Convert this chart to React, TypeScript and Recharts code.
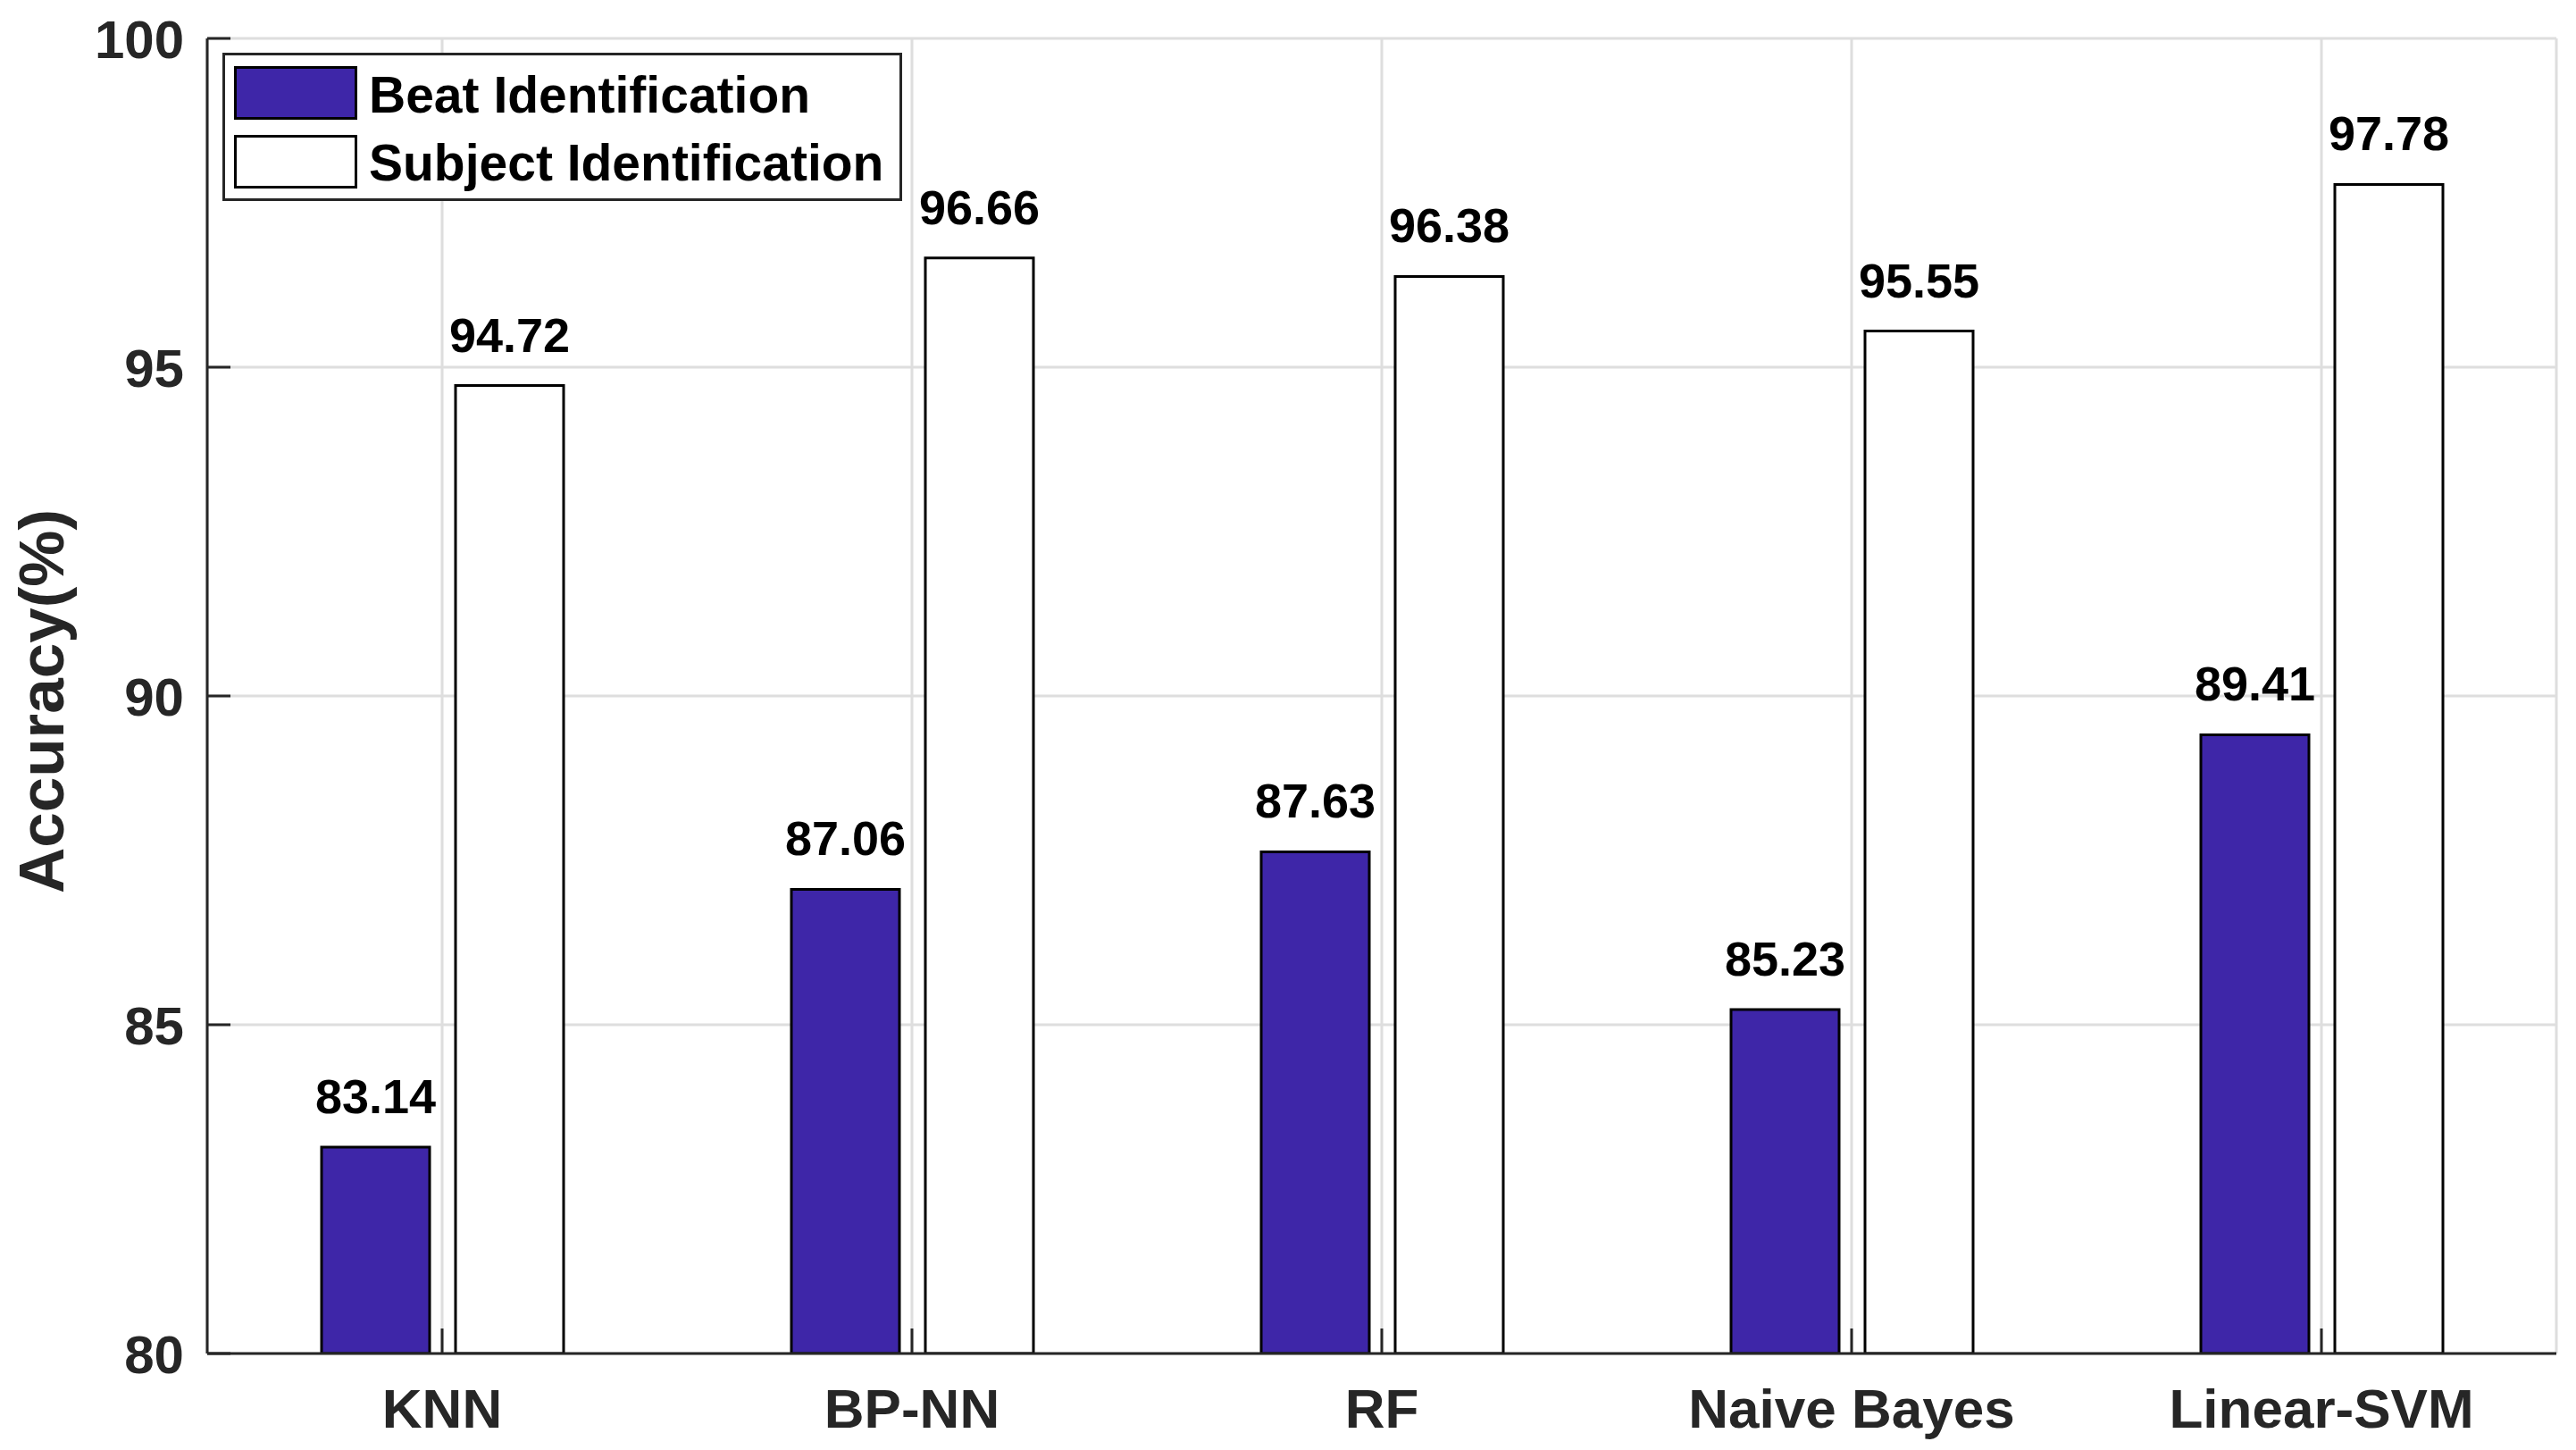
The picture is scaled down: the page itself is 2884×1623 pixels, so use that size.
import React from 'react';
import { BarChart, Bar, XAxis, YAxis, CartesianGrid, Legend, LabelList } from 'recharts';

const categories = ['KNN', 'BP-NN', 'RF', 'Naive Bayes', 'Linear-SVM'];
const beatValues = [83.14, 87.06, 87.63, 85.23, 89.41];
const subjectValues = [94.72, 96.66, 96.38, 95.55, 97.78];
const yTicks = [80, 85, 90, 95, 100];
const seriesNames = ['Beat Identification', 'Subject Identification'];

const data = categories.map((c, i) => ({ name: c, beat: beatValues[i], subject: subjectValues[i] }));

const FONT = '"Liberation Sans", Arial, Helvetica, sans-serif';
const AXIS = '#262626';

const YTick = (props: any) => {
  const { x, y, payload } = props;
  const axisX = x + 26;
  return (
    <g>
      <line x1={axisX} x2={axisX + 26} y1={y} y2={y} stroke={AXIS} strokeWidth={3} />
      <text x={x} y={y} dy="0.36em" textAnchor="end" fontFamily={FONT} fontWeight="bold" fontSize={60} fill={AXIS}>
        {payload.value}
      </text>
    </g>
  );
};

const XTick = (props: any) => {
  const { x, y, payload } = props;
  return (
    <g>
      <line x1={x} x2={x} y1={y} y2={y - 28} stroke={AXIS} strokeWidth={3} />
      <text x={x} y={y + 83} textAnchor="middle" fontFamily={FONT} fontWeight="bold" fontSize={62} fill={AXIS}>
        {payload.value}
      </text>
    </g>
  );
};

const YLabel = (props: any) => {
  const { viewBox } = props;
  const cx = viewBox.x + 63;
  const cy = viewBox.y + viewBox.height / 2 + 6;
  return (
    <text
      x={cx}
      y={cy}
      transform={`rotate(-90 ${cx} ${cy})`}
      textAnchor="middle"
      fontFamily={FONT}
      fontWeight="bold"
      fontSize={71}
      fill={AXIS}
    >
      Accuracy(%)
    </text>
  );
};

const LegendContent = (props: any) => {
  const payload = props.payload || [];
  return (
    <svg width={761} height={166} style={{ display: 'block' }}>
      <rect x={1.5} y={1.5} width={758} height={163} fill="#fff" stroke={AXIS} strokeWidth={3} />
      {payload.map((entry: any, i: number) => {
        const top = i === 0 ? 15 : 92;
        const base = i === 0 ? 67 : 143;
        return (
          <g key={i}>
            <rect x={14.5} y={top + 1.5} width={135} height={57} fill={entry.color} stroke="#000" strokeWidth={3} />
            <text x={164} y={base} fontFamily={FONT} fontWeight="bold" fontSize={57} fill="#000">
              {entry.value}
            </text>
          </g>
        );
      })}
    </svg>
  );
};

const valueFormatter = (v: any) => Number(v).toFixed(2);

export default function App() {
  return (
    <div style={{ width: 2868, height: 1607, background: '#fff' }}>
      <BarChart
        width={2868}
        height={1607}
        data={data}
        margin={{ top: 35, right: 14, bottom: 0, left: 0 }}
        barSize={121}
        barGap={29}
      >
        <CartesianGrid stroke="#dedede" strokeWidth={3} />
        <XAxis
          dataKey="name"
          height={100}
          tickSize={0}
          tickMargin={0}
          tick={<XTick />}
          axisLine={{ stroke: AXIS, strokeWidth: 3 }}
          tickLine={false}
          interval={0}
        />
        <YAxis
          width={224}
          domain={[80, 100]}
          ticks={yTicks}
          allowDataOverflow
          tickSize={0}
          tickMargin={26}
          tick={<YTick />}
          axisLine={{ stroke: AXIS, strokeWidth: 3 }}
          tickLine={false}
          label={{ content: <YLabel /> }}
        />
        <Legend
          layout="horizontal"
          verticalAlign="middle"
          align="center"
          content={<LegendContent />}
          wrapperStyle={{ position: 'absolute', left: 241, top: 51, width: 761, height: 166 }}
        />
        <Bar dataKey="beat" name={seriesNames[0]} fill="#3E26A8" stroke="#000" strokeWidth={3} isAnimationActive={false}>
          <LabelList
            dataKey="beat"
            position="top"
            offset={38}
            formatter={valueFormatter}
            style={{ fontFamily: FONT, fontWeight: 'bold', fontSize: 54, fill: '#000' }}
          />
        </Bar>
        <Bar dataKey="subject" name={seriesNames[1]} fill="#ffffff" stroke="#000" strokeWidth={3} isAnimationActive={false}>
          <LabelList
            dataKey="subject"
            position="top"
            offset={38}
            formatter={valueFormatter}
            style={{ fontFamily: FONT, fontWeight: 'bold', fontSize: 54, fill: '#000' }}
          />
        </Bar>
      </BarChart>
    </div>
  );
}
